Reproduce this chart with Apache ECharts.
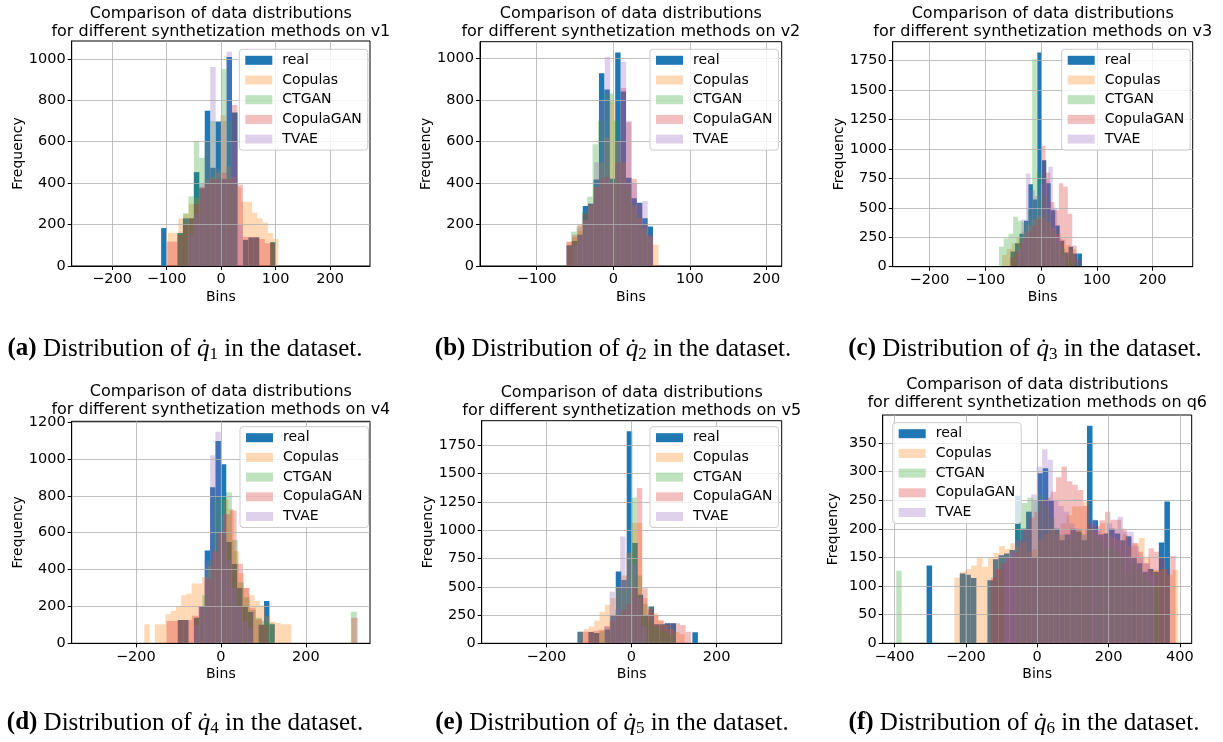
<!DOCTYPE html>
<html><head><meta charset="utf-8">
<script src="https://cdn.jsdelivr.net/npm/echarts@6/dist/echarts.min.js"></script>
<style>html,body{margin:0;padding:0;background:#fff}#c{width:1223px;height:742px}</style>
</head><body><div id="c"></div>
<script>
// ---------------- DATA (histogram counts per series, with bin range) ----------------
const seriesNames = ['real', 'Copulas', 'CTGAN', 'CopulaGAN', 'TVAE'];
const panelVars = ['v1', 'v2', 'v3', 'v4', 'v5', 'q6'];
const panelLetters = ['a', 'b', 'c', 'd', 'e', 'f'];
const panelSubs = ['1', '2', '3', '4', '5', '6'];

// (a) v1
const aRealRange = [-110, 100];
const aReal = [183, 0, 0, 159, 230, 230, 453, 375, 749, 474, 697, 420, 1008, 741, 0, 126, 138, 138, 0, 0, 115];
const aCopulasRange = [-98, 105];
const aCopulas = [160, 160, 230, 250, 300, 330, 380, 420, 430, 450, 728, 480, 430, 380, 310, 310, 257, 230, 210, 160, 131];
const aCTGANRange = [-80, 100];
const aCTGAN = [159, 255, 336, 603, 522, 600, 700, 470, 951, 700, 400, 0, 0, 0, 0, 0, 0, 115];
const aCopulaGANRange = [-100, 100];
const aCopulaGAN = [118, 118, 150, 200, 230, 300, 380, 400, 420, 420, 450, 420, 777, 393, 140, 140, 140, 130, 110, 110];
const aTVAERange = [-60, 40];
const aTVAE = [150, 250, 400, 600, 960, 470, 700, 1034, 600, 200];

// (b) v2
const bRealRange = [-61, 52];
const bReal = [100, 120, 150, 289, 300, 417, 928, 850, 420, 1029, 840, 425, 326, 305, 230, 190];
const bCopulasRange = [-61, 59];
const bCopulas = [117, 140, 170, 220, 290, 380, 500, 620, 791, 600, 500, 400, 285, 230, 180, 140, 104];
const bCTGANRange = [-55, 50];
const bCTGAN = [165, 190, 260, 334, 586, 700, 831, 831, 700, 500, 380, 300, 250, 200, 150];
const bCopulaGANRange = [-61, 52];
const bCopulaGAN = [117, 150, 200, 250, 300, 380, 420, 430, 400, 500, 858, 692, 420, 300, 200, 150];
const bTVAERange = [-53, 52];
const bTVAE = [100, 150, 220, 300, 500, 800, 1008, 400, 600, 984, 700, 400, 300, 313, 150];

// (c) v3
const cRealRange = [-54.6, 73.4];
const cReal = [130, 200, 280, 390, 700, 570, 1820, 905, 708, 480, 350, 220, 120, 170, 113, 113];
const cCopulasRange = [-70, 62];
const cCopulas = [100, 150, 200, 250, 300, 350, 400, 433, 420, 380, 330, 280, 230, 184, 150];
const cCTGANRange = [-75.4, 60.6];
const cCTGAN = [170, 240, 280, 425, 390, 380, 480, 1763, 800, 600, 450, 300, 200, 150, 80, 40];
const cCopulaGANRange = [-56, 72];
const cCopulaGAN = [80, 130, 200, 250, 300, 350, 400, 1027, 800, 550, 480, 708, 680, 450, 180, 60];
const cTVAERange = [-43, 45];
const cTVAE = [150, 400, 792, 650, 600, 700, 750, 849, 500, 250, 100];

// (d) v4
const dRealRange = [-101.5, 127];
const dReal = [126, 126, 0, 139, 200, 504, 846, 1098, 972, 549, 430, 300, 200, 170, 0, 100, 229, 103];
const dCopulasRange = [-180, 166];
const dCopulas = [103, 0, 103, 103, 157, 175, 198, 261, 270, 324, 324, 360, 420, 500, 600, 780, 729, 500, 380, 300, 260, 230, 207, 150, 117, 110, 103, 103];
const dCTGANRange = [-100, 320];
const dCTGAN = [0, 0, 0, 140, 260, 450, 780, 800, 819, 560, 330, 250, 180, 139, 121, 110, 0, 0, 0, 0, 0, 0, 0, 0, 0, 0, 0, 0, 0, 171];
const dCopulaGANRange = [-128, 322];
const dCopulaGAN = [121, 121, 126, 126, 150, 200, 350, 500, 600, 700, 720, 432, 300, 193, 130, 100, 0, 0, 0, 0, 0, 0, 0, 0, 0, 0, 0, 0, 0, 139];
const dTVAERange = [-63, 75];
const dTVAE = [100, 200, 450, 1020, 1147, 700, 450, 300, 200, 120, 80];

// (e) v5
const eRealRange = [-127, 156];
const eReal = [103, 0, 100, 90, 0, 120, 250, 635, 560, 1875, 886, 430, 250, 325, 168, 168, 177, 177, 0, 0, 0, 97];
const eCopulasRange = [-125, 125];
const eCopulas = [100, 127, 148, 200, 280, 340, 400, 500, 600, 800, 1065, 1065, 400, 325, 266, 207, 162, 127, 100, 80];
const eCTGANRange = [-75, 100];
const eCTGAN = [109, 130, 180, 270, 472, 600, 1290, 600, 350, 200, 150, 120, 100, 80];
const eCopulaGANRange = [-115, 140];
const eCopulaGAN = [103, 103, 110, 120, 150, 200, 250, 300, 350, 500, 1373, 487, 300, 250, 200, 177, 177, 177, 162, 103];
const eTVAERange = [-64, 36];
const eTVAE = [150, 457, 300, 944, 600, 700, 400, 150];

// (f) q6
const fRealRange = [-310, 372];
const fReal = [136, 0, 0, 0, 0, 0, 122, 120, 114, 0, 0, 110, 147, 154, 157, 163, 258, 200, 230, 150, 297, 306, 250, 200, 180, 190, 200, 195, 180, 380, 215, 190, 192, 200, 192, 180, 187, 150, 140, 125, 130, 125, 176, 248];
const fCopulasRange = [-232, 395];
const fCopulas = [115, 125, 130, 136, 150, 134, 150, 158, 170, 165, 175, 170, 176, 160, 165, 180, 190, 200, 190, 210, 224, 239, 239, 248, 200, 195, 210, 190, 185, 180, 190, 170, 175, 184, 150, 128, 128, 130, 120, 128];
const fCTGANRange = [-395, 339.4];
const fCTGAN = [127, 0, 0, 0, 0, 0, 0, 0, 0, 0, 0, 0, 0, 0, 0, 0, 0, 0, 0, 0, 0, 0, 230, 245, 255, 250, 260, 240, 220, 200, 190, 180, 195, 200, 190, 200, 185, 180, 166, 170, 160, 150, 121, 140, 130, 121, 110, 100];
const fCopulaGANRange = [-130, 388];
const fCopulaGAN = [115, 130, 140, 150, 160, 180, 200, 220, 230, 250, 255, 265, 290, 309, 283, 277, 268, 240, 210, 205, 215, 230, 216, 216, 200, 185, 175, 160, 140, 166, 160, 150, 130, 153];
const fTVAERange = [-92, 331];
const fTVAE = [150, 160, 180, 200, 230, 260, 309, 339, 321, 250, 240, 230, 210, 200, 190, 200, 216, 200, 190, 210, 200, 221, 195, 195, 170, 150, 140, 120];

// Axis tick labels
const aXTicks = [-200, -100, 0, 100, 200];
const bXTicks = [-100, 0, 100, 200];
const cXTicks = [-200, -100, 0, 100, 200];
const dXTicks = [-200, 0, 200];
const eXTicks = [-200, 0, 200];
const fXTicks = [-400, -200, 0, 200, 400];
const aYTicks = [0, 200, 400, 600, 800, 1000];
const bYTicks = [0, 200, 400, 600, 800, 1000];
const cYTicks = [0, 250, 500, 750, 1000, 1250, 1500, 1750];
const dYTicks = [0, 200, 400, 600, 800, 1000, 1200];
const eYTicks = [0, 250, 500, 750, 1000, 1250, 1500, 1750];
const fYTicks = [0, 50, 100, 150, 200, 250, 300, 350];

// ---------------- LAYOUT / STYLE ----------------
const panelData = [
  [[aRealRange, aReal], [aCopulasRange, aCopulas], [aCTGANRange, aCTGAN], [aCopulaGANRange, aCopulaGAN], [aTVAERange, aTVAE]],
  [[bRealRange, bReal], [bCopulasRange, bCopulas], [bCTGANRange, bCTGAN], [bCopulaGANRange, bCopulaGAN], [bTVAERange, bTVAE]],
  [[cRealRange, cReal], [cCopulasRange, cCopulas], [cCTGANRange, cCTGAN], [cCopulaGANRange, cCopulaGAN], [cTVAERange, cTVAE]],
  [[dRealRange, dReal], [dCopulasRange, dCopulas], [dCTGANRange, dCTGAN], [dCopulaGANRange, dCopulaGAN], [dTVAERange, dTVAE]],
  [[eRealRange, eReal], [eCopulasRange, eCopulas], [eCTGANRange, eCTGAN], [eCopulaGANRange, eCopulaGAN], [eTVAERange, eTVAE]],
  [[fRealRange, fReal], [fCopulasRange, fCopulas], [fCTGANRange, fCTGAN], [fCopulaGANRange, fCopulaGAN], [fTVAERange, fTVAE]]
];
const xTicksAll = [aXTicks, bXTicks, cXTicks, dXTicks, eXTicks, fXTicks];
const yTicksAll = [aYTicks, bYTicks, cYTicks, dYTicks, eYTicks, fYTicks];

const layout = [
  {left: 71.7, top: 41, width: 298.3, height: 225, xr: [-274, 273], titleTop: 5, leg: [239.3, 49.3], yGap: 42, cap: [185, 349]},
  {left: 480, top: 41.7, width: 301.7, height: 224.3, xr: [-174, 220], titleTop: 5, leg: [650, 49.3], yGap: 41, cap: [613, 349]},
  {left: 892.7, top: 41.7, width: 300, height: 225, xr: [-266, 272], titleTop: 5, leg: [1061.7, 49.3], yGap: 40, cap: [1025, 349]},
  {left: 71.7, top: 421.3, width: 298.3, height: 222, xr: [-351, 351], titleTop: 383, leg: [240, 426.7], yGap: 42, cap: [185, 723]},
  {left: 481.7, top: 420.7, width: 300, height: 222.6, xr: [-352, 353], titleTop: 384, leg: [650, 426.7], yGap: 41, cap: [612, 723]},
  {left: 882.7, top: 415, width: 309, height: 228.3, xr: [-433, 433], titleTop: 376, leg: [892.7, 422.7], yGap: 42, cap: [1024, 723]}
];
const colors = ['#1f77b4', 'rgba(255,127,14,0.3)', 'rgba(44,160,44,0.3)', 'rgba(214,39,40,0.3)', 'rgba(148,103,189,0.3)'];
const SANS = 'DejaVu Sans';
const SERIF = 'Liberation Serif';
const minusFmt = v => String(v).replace('-', '\u2212');

const grids = [], xAxes = [], yAxes = [], series = [], legends = [], graphics = [];

panelData.forEach((pd, p) => {
  const L = layout[p];
  let maxCount = 0;
  pd.forEach(([r, c]) => c.forEach(v => { if (v > maxCount) maxCount = v; }));
  const yMax = maxCount * 1.05;
  grids.push({left: L.left, top: L.top, width: L.width, height: L.height, show: true,
    borderColor: '#000', borderWidth: 1, backgroundColor: 'transparent'});
  xAxes.push({type: 'value', gridIndex: p, min: L.xr[0], max: L.xr[1], z: 3,
    axisLine: {show: true, onZero: false, lineStyle: {color: '#000', width: 1}},
    axisTick: {show: true, length: 4, customValues: xTicksAll[p], lineStyle: {color: '#000'}},
    axisLabel: {customValues: xTicksAll[p], formatter: minusFmt, fontSize: 14.5, fontFamily: SANS, color: '#000', margin: 6},
    splitLine: {show: true, lineStyle: {color: '#b0b0b0', width: 0.8}},
    name: 'Bins', nameLocation: 'middle', nameGap: 24,
    nameTextStyle: {fontSize: 14, fontFamily: SANS, color: '#000'}});
  yAxes.push({type: 'value', gridIndex: p, min: 0, max: yMax, z: 3,
    axisLine: {show: true, onZero: false, lineStyle: {color: '#000', width: 1}},
    axisTick: {show: true, length: 4, customValues: yTicksAll[p], lineStyle: {color: '#000'}},
    axisLabel: {customValues: yTicksAll[p], formatter: v => String(v), fontSize: 14.5, fontFamily: SANS, color: '#000', margin: 6},
    splitLine: {show: true, lineStyle: {color: '#b0b0b0', width: 0.8}},
    name: 'Frequency', nameLocation: 'middle', nameGap: L.yGap, nameRotate: 90,
    nameTextStyle: {fontSize: 14, fontFamily: SANS, color: '#000'}});
  pd.forEach(([range, counts], s) => {
    const w = (range[1] - range[0]) / counts.length;
    const data = [];
    counts.forEach((c, i) => { if (c > 0) data.push([range[0] + i * w, range[0] + (i + 1) * w, c]); });
    const col = colors[s];
    series.push({type: 'custom', name: seriesNames[s], xAxisIndex: p, yAxisIndex: p, data,
      encode: {x: [0, 1], y: 2}, clip: true, silent: true, itemStyle: {color: col},
      renderItem: (params, api) => {
        const p0 = api.coord([api.value(0), api.value(2)]);
        const p1 = api.coord([api.value(1), 0]);
        return {type: 'rect', shape: {x: p0[0], y: p0[1], width: p1[0] - p0[0], height: p1[1] - p0[1]},
          style: {fill: col}};
      }});
  });
  legends.push({left: L.leg[0], top: L.leg[1], orient: 'vertical', data: seriesNames, icon: 'rect',
    itemWidth: 27, itemHeight: 9, itemGap: 3.7, selectedMode: false,
    textStyle: {fontSize: 14, fontFamily: SANS, color: '#000', lineHeight: 16, padding: [0, 0, 0, 5]},
    padding: [3, 6, 3, 6], borderColor: '#cccccc', borderWidth: 1, borderRadius: 3,
    backgroundColor: 'rgba(255,255,255,0.8)'});
  graphics.push({type: 'text', x: L.left + L.width / 2, y: L.titleTop, z: 10,
    style: {text: 'Comparison of data distributions\nfor different synthetization methods on ' + panelVars[p],
      fontSize: 16, fontFamily: SANS, fill: '#000', align: 'center', verticalAlign: 'top', lineHeight: 18}});
  graphics.push({type: 'text', x: L.cap[0], y: L.cap[1], z: 10,
    style: {text: '{b|(' + panelLetters[p] + ')} Distribution of {q|q\u0307}{s|' + panelSubs[p] + '} in the dataset.',
      fontSize: 25, fontFamily: SERIF, fill: '#000', align: 'center', verticalAlign: 'middle', lineHeight: 29,
      rich: {
        b: {fontWeight: 'bold', fontSize: 25, fontFamily: SERIF, lineHeight: 29},
        q: {fontStyle: 'italic', fontSize: 25, fontFamily: SERIF, lineHeight: 29},
        s: {fontSize: 17, fontFamily: SERIF, lineHeight: 19, verticalAlign: 'bottom'}
      }}});
});

const chart = echarts.init(document.getElementById('c'), null, {renderer: 'canvas'});
chart.setOption({
  backgroundColor: '#ffffff', animation: false,
  grid: grids, xAxis: xAxes, yAxis: yAxes, series, legend: legends, graphic: graphics
});
</script></body></html>
